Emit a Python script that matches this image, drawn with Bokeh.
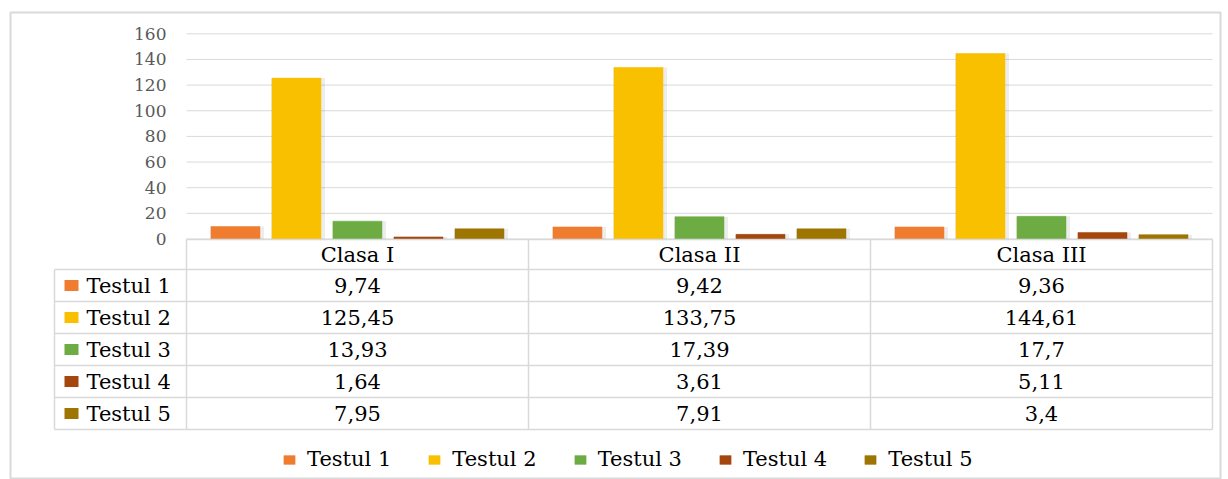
from bokeh.plotting import figure
from bokeh.models import ColumnDataSource, Range1d, FixedTicker, Legend, LegendItem
from bokeh.transform import dodge
from bokeh.core.properties import value
from bokeh.embed import file_html
from bokeh.resources import INLINE

# ---------------- data ----------------
classes = ["Clasa I", "Clasa II", "Clasa III"]
series = ["Testul 1", "Testul 2", "Testul 3", "Testul 4", "Testul 5"]
testul_1 = [9.74, 9.42, 9.36]
testul_2 = [125.45, 133.75, 144.61]
testul_3 = [13.93, 17.39, 17.7]
testul_4 = [1.64, 3.61, 5.11]
testul_5 = [7.95, 7.91, 3.4]
y_ticks = [0, 20, 40, 60, 80, 100, 120, 140, 160]

values = [testul_1, testul_2, testul_3, testul_4, testul_5]
colors = ["#F07C30", "#F9C000", "#6CAC43", "#A5460F", "#9E7500"]

# ---------------- geometry (page pixels) ----------------
W, H = 1228, 479
FRAME_L, FRAME_R, FRAME_T, FRAME_B = 10, 1220, 12, 479
CAT_L, CAT_W = 186, 342
Y0 = 238.5
KY = (238.5 - 33.3) / 160.0


def X(px):
    return (px - CAT_L) / CAT_W


def Y(py):
    return (Y0 - py) / KY


FONT_NAME = "DejaVu Serif"
FONT = value(FONT_NAME)
LINE = "#d9d9d9"

p = figure(width=W, height=H,
           x_range=Range1d(X(FRAME_L), X(FRAME_R)),
           y_range=Range1d(Y(FRAME_B), Y(FRAME_T)),
           output_backend="svg", toolbar_location=None,
           x_axis_location=None, title=None,
           min_border_left=FRAME_L, min_border_right=W - FRAME_R,
           min_border_top=FRAME_T, min_border_bottom=H - FRAME_B)
p.background_fill_color = "white"
p.border_fill_color = "white"
p.outline_line_color = LINE
p.outline_line_width = 2
p.xgrid.visible = False
p.ygrid.visible = False

ax = p.yaxis[0]
ax.fixed_location = 0
ax.ticker = FixedTicker(ticks=y_ticks)
ax.axis_line_color = None
ax.major_tick_line_color = None
ax.minor_tick_line_color = None
ax.major_label_standoff = 14
ax.major_label_text_font = FONT_NAME
ax.major_label_text_font_size = "17px"
ax.major_label_text_color = "#595959"

# gridlines across the plot area only
p.segment(x0=0, x1=len(classes), y0=y_ticks, y1=y_ticks, line_color=LINE, line_width=1)

# ---------------- bars ----------------
src = ColumnDataSource(dict(x=[i + 0.5 for i in range(len(classes))],
                            **{f"s{k}": v for k, v in enumerate(values)}))
step = 61 / CAT_W
bw = 49 / CAT_W
renderers = []
for k in range(len(series)):
    off = (k - 2) * step
    p.vbar(x=dodge("x", off + 1.5 / CAT_W, range=p.x_range), top=f"s{k}", bottom=-1.0,
           width=bw + 5 / CAT_W, source=src, fill_color="#000000", fill_alpha=0.07,
           line_color=None)
    r = p.vbar(x=dodge("x", off, range=p.x_range), top=f"s{k}", width=bw, source=src,
               fill_color=colors[k], line_color=colors[k], line_width=0.5)
    renderers.append(r)

# ---------------- data table ----------------
row_top = 269
row_h = 32
n = len(series)
edges = [row_top + row_h * i for i in range(n + 1)]
p.segment(x0=0, x1=len(classes), y0=Y(239), y1=Y(239), line_color=LINE, line_width=1.5)
p.segment(x0=X(54), x1=len(classes), y0=[Y(e) for e in edges], y1=[Y(e) for e in edges],
          line_color=LINE, line_width=1.5)
p.segment(x0=list(range(len(classes) + 1)), x1=list(range(len(classes) + 1)),
          y0=Y(239), y1=Y(edges[-1]), line_color=LINE, line_width=1.5)
p.segment(x0=X(54), x1=X(54), y0=Y(row_top), y1=Y(edges[-1]), line_color=LINE, line_width=1.5)

p.text(x=[i + 0.5 for i in range(len(classes))], y=Y(254), text=classes,
       text_font=FONT, text_font_size="21px", text_align="center",
       text_baseline="middle", text_color="#000000")

for k in range(n):
    yc = Y(row_top + row_h * k + row_h / 2)
    p.text(x=[i + 0.5 for i in range(len(classes))], y=yc,
           text=[str(v).replace(".", ",") for v in values[k]],
           text_font=FONT, text_font_size="21px", text_align="center",
           text_baseline="middle", text_color="#000000")

p.rect(x=X(71), y=[Y(row_top + row_h * k + row_h / 2) for k in range(n)],
       width=14, height=11, width_units="screen", height_units="screen",
       fill_color=colors, line_color=None)
p.text(x=X(86), y=[Y(row_top + row_h * k + row_h / 2) for k in range(n)], text=series,
       text_font=FONT, text_font_size="21px", text_align="left",
       text_baseline="middle", text_color="#000000")

# ---------------- legend ----------------
legend = Legend(items=[LegendItem(label=series[k], renderers=[renderers[k]]) for k in range(n)],
                orientation="horizontal", location=(282 - FRAME_L, 8),
                spacing=36, glyph_width=14, glyph_height=11, label_standoff=11,
                padding=0, margin=0, border_line_color=None, background_fill_alpha=0,
                label_text_font=FONT_NAME, label_text_font_size="21px",
                label_text_color="#000000")
p.add_layout(legend)

open("out.html", "w").write(file_html(p, INLINE))
